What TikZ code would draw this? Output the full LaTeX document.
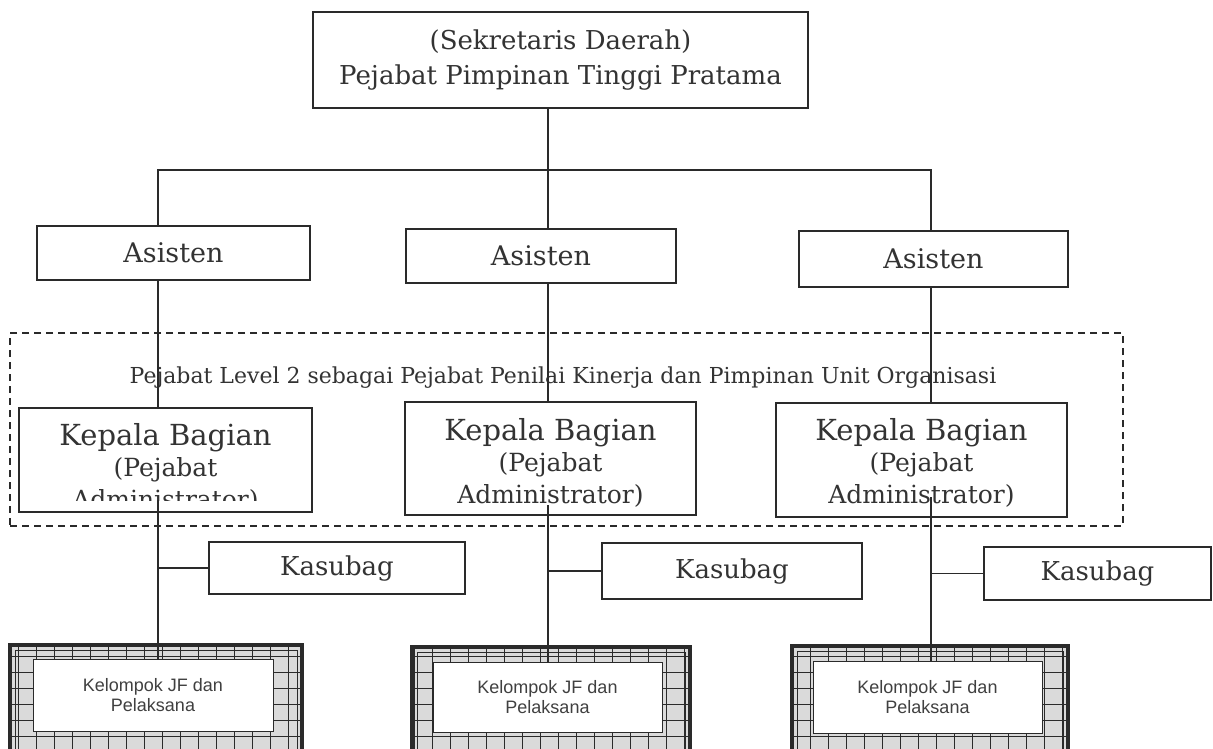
\documentclass[tikz,border=0pt]{standalone}
\usepackage{fontspec}
\setmainfont{DejaVu Serif}
\newfontfamily\sansf{Liberation Sans}
\definecolor{ink}{HTML}{2A2A2A}
\definecolor{txt}{HTML}{333333}
\definecolor{cell}{HTML}{DADADA}
\newcommand\kelframe[4]{%
  \begin{scope}
    \clip (#1,#2) rectangle (#3,#4);
    \fill[cell] (#1,#2) rectangle (#3,#4);
    \draw[ink, line width=0.9pt, xstep=18pt, ystep=16pt] (#1,#4) grid (#3,#2);
  \end{scope}
  \draw[ink, line width=1pt] (#1+5,#2+5) rectangle (#3-5,#4-5);
  \draw[ink, line width=3.5pt] (#1,#2) rectangle (#3,#4);
}
\begin{document}
\begin{tikzpicture}[x=1pt,y=-1pt,
  box/.style={draw=ink, line width=1.2pt, fill=white, inner sep=0pt, text=txt, align=center},
  conn/.style={draw=ink, line width=1.3pt},
  asis/.style={box, font=\fontsize{27}{32}\selectfont},
  kbbox/.style={draw=ink, line width=1.3pt, fill=white, inner sep=0pt},
  kbtext/.style={anchor=north, inner sep=0pt, align=center, text=txt, font=\fontsize{25}{31.5}\selectfont},
  kel/.style={box, line width=1pt, font=\sansf\fontsize{18}{19.5}\selectfont, text=black!75}
]
\useasboundingbox (0,0) rectangle (1213,748);
\fill[white] (0,0) rectangle (1213,748);

% dashed frame
\node[draw=ink, line width=1.3pt, dash pattern=on 7pt off 5pt, minimum width=1113pt, minimum height=193pt, inner sep=0pt] (frame) at (566.5,429.5) {};
\node[anchor=base, inner sep=0pt, text=txt, font=\fontsize{22}{26}\selectfont] (lbl) at (563,383)
  {Pejabat Level 2 sebagai Pejabat Penilai Kinerja dan Pimpinan Unit Organisasi};

% top
\node[box, minimum width=495pt, minimum height=96pt, font=\fontsize{26}{35}\selectfont] (top) at (560.5,60)
  {(Sekretaris Daerah)\\Pejabat Pimpinan Tinggi Pratama};

% asisten
\node[asis, minimum width=273pt, minimum height=54pt] (a1) at (173.5,253) {Asisten};
\node[asis, minimum width=270pt, minimum height=54pt] (a2) at (541,256) {Asisten};
\node[asis, minimum width=269pt, minimum height=56pt] (a3) at (933.5,259) {Asisten};

% kepala bagian
\node[kbbox, minimum width=293pt, minimum height=104pt] (kb1) at (165.5,460) {};
\node[kbbox, minimum width=291pt, minimum height=113pt] (kb2) at (550.5,458.5) {};
\node[kbbox, minimum width=291pt, minimum height=114pt] (kb3) at (921.5,460) {};
\begin{scope}
  \clip (20,409) rectangle (311,500);
  \node[kbtext] (kb1t) at (165.5,423) {{\fontsize{29}{32}\selectfont Kepala Bagian}\\(Pejabat\\Administrator)};
\end{scope}
\node[kbtext] (kb2t) at (550.5,418) {{\fontsize{29}{32}\selectfont Kepala Bagian}\\(Pejabat\\Administrator)};
\node[kbtext] (kb3t) at (921.5,418) {{\fontsize{29}{32}\selectfont Kepala Bagian}\\(Pejabat\\Administrator)};

% kasubag
\node[asis, font=\fontsize{26}{30}\selectfont, minimum width=256pt, minimum height=52pt] (ks1) at (337,568) {Kasubag};
\node[asis, font=\fontsize{26}{30}\selectfont, minimum width=260pt, minimum height=56pt] (ks2) at (732,571) {Kasubag};
\node[asis, font=\fontsize{26}{30}\selectfont, minimum width=227pt, minimum height=53pt] (ks3) at (1097.5,573.5) {Kasubag};

% kelompok
\kelframe{10}{645}{302}{760}
\kelframe{412}{647}{690}{760}
\kelframe{792}{646}{1068}{760}
\node[kel, minimum width=240pt, minimum height=72pt] (kel1) at (153,695) {Kelompok JF dan\\Pelaksana};
\node[kel, minimum width=229pt, minimum height=70pt] (kel2) at (547.5,697) {Kelompok JF dan\\Pelaksana};
\node[kel, minimum width=229pt, minimum height=72pt] (kel3) at (927.5,697) {Kelompok JF dan\\Pelaksana};

% connectors
\coordinate (c1) at (158,170);
\coordinate (c2) at (548,170);
\coordinate (c3) at (931,170);
\draw[conn] (top.south -| c2) -- (a2.north -| c2);
\draw[conn] (a1.north -| c1) -- (c1) -- (c3) -- (a3.north -| c3);
\draw[conn] (a1.south -| c1) -- (kb1.north -| c1);
\draw[conn] (a2.south -| c2) -- (kb2.north -| c2);
\draw[conn] (a3.south -| c3) -- (kb3.north -| c3);
\coordinate (d1) at (158,500);
\coordinate (d2) at (548,505);
\coordinate (d3) at (931,497);
\draw[conn] (d1) -- (kel1.north -| d1);
\draw[conn] (d2) -- (kel2.north -| d2);
\draw[conn] (d3) -- (kel3.north -| d3);
\draw[conn] (ks1.west) -- (ks1.west -| d1);
\draw[conn] (ks2.west) -- (ks2.west -| d2);
\draw[conn] (ks3.west) -- (ks3.west -| d3);
\end{tikzpicture}
\end{document}
